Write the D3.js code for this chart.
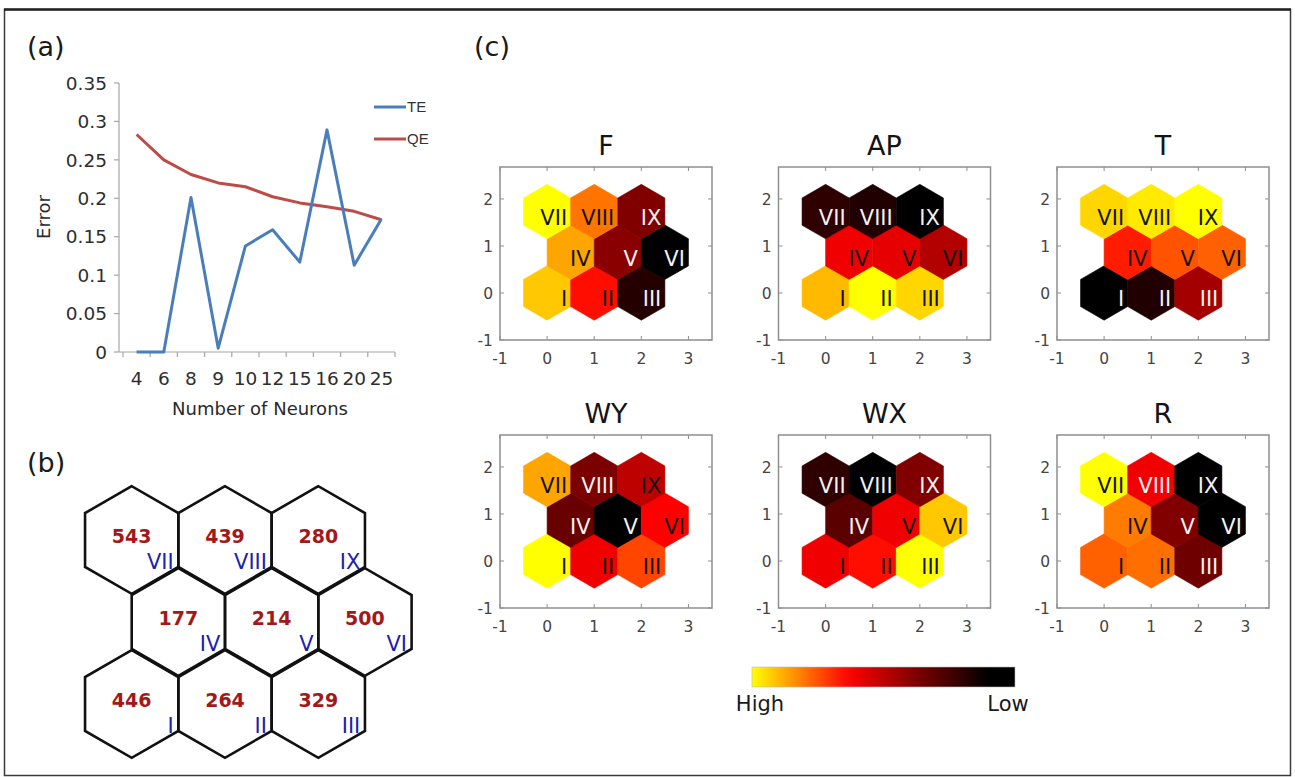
<!DOCTYPE html>
<html>
<head>
<meta charset="utf-8">
<script src="https://cdn.jsdelivr.net/npm/d3@7"></script>
<style>
  body { margin: 0; background: #fff; }
  svg { display: block; }
</style>
</head>
<body>
<svg id="fig" width="1295" height="777"></svg>
<script>
// ---- (a) error vs number of neurons
const neurons = ["4", "6", "8", "9", "10", "12", "15", "16", "20", "25"];
const teValues = [0, 0, 0.201, 0.005, 0.138, 0.159, 0.117, 0.289, 0.113, 0.173];
const qeValues = [0.283, 0.250, 0.231, 0.220, 0.215, 0.202, 0.194, 0.189, 0.183, 0.172];
const errorTicks = [0, 0.05, 0.1, 0.15, 0.2, 0.25, 0.3, 0.35];

// ---- (b) hits per node
const nodeNames = ["I", "II", "III", "IV", "V", "VI", "VII", "VIII", "IX"];
const nodeRow = [0, 0, 0, 1, 1, 1, 2, 2, 2];
const nodeCol = [0, 1, 2, 0, 1, 2, 0, 1, 2];
const hitCounts = [446, 264, 329, 177, 214, 500, 543, 439, 280];

// ---- (c) component planes, 0 = High ... 1 = Low (order I..IX)
const planeNames = ["F", "AP", "T", "WY", "WX", "R"];
const planeF  = [0.08, 0.35, 0.82, 0.13, 0.60, 0.97, 0.00, 0.20, 0.62];
const planeAP = [0.10, 0.00, 0.06, 0.40, 0.42, 0.52, 0.80, 0.83, 0.97];
const planeT  = [1.00, 0.83, 0.55, 0.33, 0.25, 0.23, 0.06, 0.03, 0.00];
const planeWY = [0.00, 0.40, 0.27, 0.67, 1.00, 0.37, 0.13, 0.63, 0.50];
const planeWX = [0.40, 0.35, 0.00, 0.70, 0.40, 0.08, 0.80, 0.95, 0.62];
const planeR  = [0.23, 0.21, 0.66, 0.19, 0.62, 0.98, 0.00, 0.40, 1.00];
const planeValues = [planeF, planeAP, planeT, planeWY, planeWX, planeR];
const lightLabelExtra = { R: ["VIII"] };
const planeTicksX = [-1, 0, 1, 2, 3];
const planeTicksY = [-1, 0, 1, 2];

const svg = d3.select("#fig");
const FONT = "'DejaVu Sans', sans-serif";

// frame
svg.append("rect").attr("x", 4.5).attr("y", 9.5).attr("width", 1286).attr("height", 766)
  .attr("fill", "none").attr("stroke", "#3a3a3a").attr("stroke-width", 1.5);
svg.append("line").attr("x1", 4).attr("x2", 1291).attr("y1", 9.5).attr("y2", 9.5)
  .attr("stroke", "#222").attr("stroke-width", 2.5);

const panelLabel = (txt, x, y) => svg.append("text").attr("x", x).attr("y", y)
  .attr("font-family", FONT).attr("font-size", 27).attr("fill", "#1a1a1a").text(txt);
panelLabel("(a)", 27, 56);
panelLabel("(b)", 27, 472);
panelLabel("(c)", 474, 56);

const hexPath = (cx, cy, r) => {
  const pts = d3.range(6).map(k => {
    const a = Math.PI / 2 + k * Math.PI / 3;
    return [cx + r * Math.cos(a), cy - r * Math.sin(a)];
  });
  return "M" + pts.map(p => p.join(",")).join("L") + "Z";
};

// ================= (a)
const xA = d3.scaleBand().domain(neurons).range([123, 395]);
const yA = d3.scaleLinear().domain([0, 0.35]).range([352, 83]);
const gA = svg.append("g");

gA.append("line").attr("x1", 119).attr("x2", 119).attr("y1", yA(0.35)).attr("y2", yA(0))
  .attr("stroke", "#a6a6a6").attr("stroke-width", 1.2);
gA.append("line").attr("x1", 119).attr("x2", 395).attr("y1", yA(0)).attr("y2", yA(0))
  .attr("stroke", "#a6a6a6").attr("stroke-width", 1.2);

gA.selectAll(".ytick").data(errorTicks).join("line")
  .attr("x1", 114).attr("x2", 119).attr("y1", d => yA(d)).attr("y2", d => yA(d))
  .attr("stroke", "#a6a6a6").attr("stroke-width", 1.2);
gA.selectAll(".ylab").data(errorTicks).join("text")
  .attr("x", 107).attr("y", d => yA(d)).attr("dy", "0.36em")
  .attr("text-anchor", "end").attr("font-family", FONT).attr("font-size", 18.5)
  .attr("fill", "#2e2e2e").text(d => String(d));

const bounds = d3.range(neurons.length + 1).map(i => xA.range()[0] + i * xA.step());
gA.selectAll(".xtick").data(bounds).join("line")
  .attr("x1", d => d).attr("x2", d => d).attr("y1", yA(0)).attr("y2", yA(0) + 5)
  .attr("stroke", "#a6a6a6").attr("stroke-width", 1.2);
gA.selectAll(".xlab").data(neurons).join("text")
  .attr("x", d => xA(d) + xA.bandwidth() / 2).attr("y", 385)
  .attr("text-anchor", "middle").attr("font-family", FONT).attr("font-size", 18.5)
  .attr("fill", "#2e2e2e").text(d => d);

gA.append("text").attr("x", 260).attr("y", 415).attr("text-anchor", "middle")
  .attr("font-family", FONT).attr("font-size", 18).attr("fill", "#2a2a2a").text("Number of Neurons");
gA.append("text").attr("transform", "translate(50,217) rotate(-90)").attr("text-anchor", "middle")
  .attr("font-family", FONT).attr("font-size", 18).attr("fill", "#2a2a2a").text("Error");

const lineA = d3.line().x((d, i) => xA(neurons[i]) + xA.bandwidth() / 2).y(d => yA(d));
gA.append("path").datum(qeValues).attr("d", lineA).attr("fill", "none")
  .attr("stroke", "#be4b48").attr("stroke-width", 3).attr("stroke-linejoin", "round");
gA.append("path").datum(teValues).attr("d", lineA).attr("fill", "none")
  .attr("stroke", "#4a7ebb").attr("stroke-width", 3).attr("stroke-linejoin", "round");

[["TE", "#4a7ebb", 107], ["QE", "#be4b48", 139]].forEach(([name, col, y]) => {
  gA.append("line").attr("x1", 374).attr("x2", 406).attr("y1", y).attr("y2", y)
    .attr("stroke", col).attr("stroke-width", 3);
  gA.append("text").attr("x", 407).attr("y", y).attr("dy", "0.36em")
    .attr("font-family", "'Liberation Sans', Arial, sans-serif").attr("font-size", 15)
    .attr("fill", "#333").text(name);
});

// ================= (b)
const posX = i => nodeCol[i] + 0.5 * (nodeRow[i] % 2);
const posY = i => nodeRow[i] * Math.sqrt(3) / 2;
const xB = d3.scaleLinear().domain([0, 1]).range([131.7, 225]);
const yB = d3.scaleLinear().domain([0, Math.sqrt(3) / 2]).range([704, 622]);
const rB = (xB(1) - xB(0)) / Math.sqrt(3);
const gB = svg.append("g");
gB.selectAll("path").data(nodeNames).join("path")
  .attr("d", (d, i) => hexPath(xB(posX(i)), yB(posY(i)), rB))
  .attr("fill", "none").attr("stroke", "#111").attr("stroke-width", 2.6).attr("stroke-linejoin", "miter");
gB.selectAll(".cnt").data(hitCounts).join("text")
  .attr("x", (d, i) => xB(posX(i))).attr("y", (d, i) => yB(posY(i)) + 2.5)
  .attr("text-anchor", "middle").attr("font-family", FONT).attr("font-weight", "bold")
  .attr("font-size", 19).attr("fill", "#a31818").text(d => d);
gB.selectAll(".rom").data(nodeNames).join("text")
  .attr("x", (d, i) => xB(posX(i)) + 42).attr("y", (d, i) => yB(posY(i)) + 29)
  .attr("text-anchor", "end").attr("font-family", FONT).attr("font-size", 21)
  .attr("fill", "#2020b0").text(d => d);

// ================= (c)
const heat = d3.scaleLinear()
  .domain([0, 0.37, 0.62, 0.9])
  .range(["#ffff00", "#ff0000", "#800000", "#000000"])
  .clamp(true);

planeNames.forEach((name, p) => {
  const left = 500 + (p % 3) * 278.5;
  const top = 167 + Math.floor(p / 3) * 268;
  const w = 212, h = 173;
  const xs = d3.scaleLinear().domain([-1, 3.5]).range([left, left + w]);
  const ys = d3.scaleLinear().domain([-1, 2.68]).range([top + h, top]);
  const r = (xs(1) - xs(0)) / Math.sqrt(3);
  const g = svg.append("g");
  const vals = planeValues[p];
  const extra = lightLabelExtra[name] || [];

  g.selectAll("path").data(vals).join("path")
    .attr("d", (d, i) => hexPath(xs(posX(i)), ys(posY(i)), r))
    .attr("fill", d => heat(d)).attr("stroke", d => heat(d)).attr("stroke-width", 0.6);

  g.selectAll(".lab").data(vals).join("text")
    .attr("x", (d, i) => xs(posX(i)) + 20).attr("y", (d, i) => ys(posY(i)) + 13.5)
    .attr("text-anchor", "end").attr("font-family", FONT).attr("font-size", 21)
    .attr("fill", (d, i) => (d > 0.535 || extra.includes(nodeNames[i])) ? "#f2f2f2" : "#141414")
    .text((d, i) => nodeNames[i]);

  g.append("rect").attr("x", left).attr("y", top).attr("width", w).attr("height", h)
    .attr("fill", "none").attr("stroke", "#8f8f8f").attr("stroke-width", 1.5);

  planeTicksX.forEach(t => {
    g.append("line").attr("x1", xs(t)).attr("x2", xs(t)).attr("y1", top + h).attr("y2", top + h - 4)
      .attr("stroke", "#8f8f8f");
    g.append("line").attr("x1", xs(t)).attr("x2", xs(t)).attr("y1", top).attr("y2", top + 4)
      .attr("stroke", "#8f8f8f");
  });
  planeTicksY.forEach(t => {
    g.append("line").attr("x1", left).attr("x2", left + 4).attr("y1", ys(t)).attr("y2", ys(t))
      .attr("stroke", "#8f8f8f");
    g.append("line").attr("x1", left + w).attr("x2", left + w - 4).attr("y1", ys(t)).attr("y2", ys(t))
      .attr("stroke", "#8f8f8f");
  });
  g.selectAll(".xl").data(planeTicksX).join("text")
    .attr("x", d => xs(d)).attr("y", top + h + 24).attr("text-anchor", "middle")
    .attr("font-family", FONT).attr("font-size", 15.5).attr("fill", "#444").text(d => d);
  g.selectAll(".yl").data(planeTicksY).join("text")
    .attr("x", left - 7).attr("y", d => ys(d)).attr("dy", "0.36em").attr("text-anchor", "end")
    .attr("font-family", FONT).attr("font-size", 15.5).attr("fill", "#444").text(d => d);

  g.append("text").attr("x", left + w / 2).attr("y", top - 12).attr("text-anchor", "middle")
    .attr("font-family", FONT).attr("font-size", 27).attr("fill", "#141414").text(name);
});

// colour bar
const defs = svg.append("defs");
const grad = defs.append("linearGradient").attr("id", "hotGrad");
grad.selectAll("stop").data(d3.range(0, 1.0001, 0.05)).join("stop")
  .attr("offset", d => d).attr("stop-color", d => heat(d));
svg.append("rect").attr("x", 752).attr("y", 667).attr("width", 263).attr("height", 20)
  .attr("fill", "url(#hotGrad)").attr("stroke", "#bbb").attr("stroke-width", 0.6);
svg.append("text").attr("x", 760).attr("y", 711).attr("text-anchor", "middle")
  .attr("font-family", FONT).attr("font-size", 21).attr("fill", "#1a1a1a").text("High");
svg.append("text").attr("x", 1008).attr("y", 711).attr("text-anchor", "middle")
  .attr("font-family", FONT).attr("font-size", 21).attr("fill", "#1a1a1a").text("Low");
</script>
</body>
</html>
